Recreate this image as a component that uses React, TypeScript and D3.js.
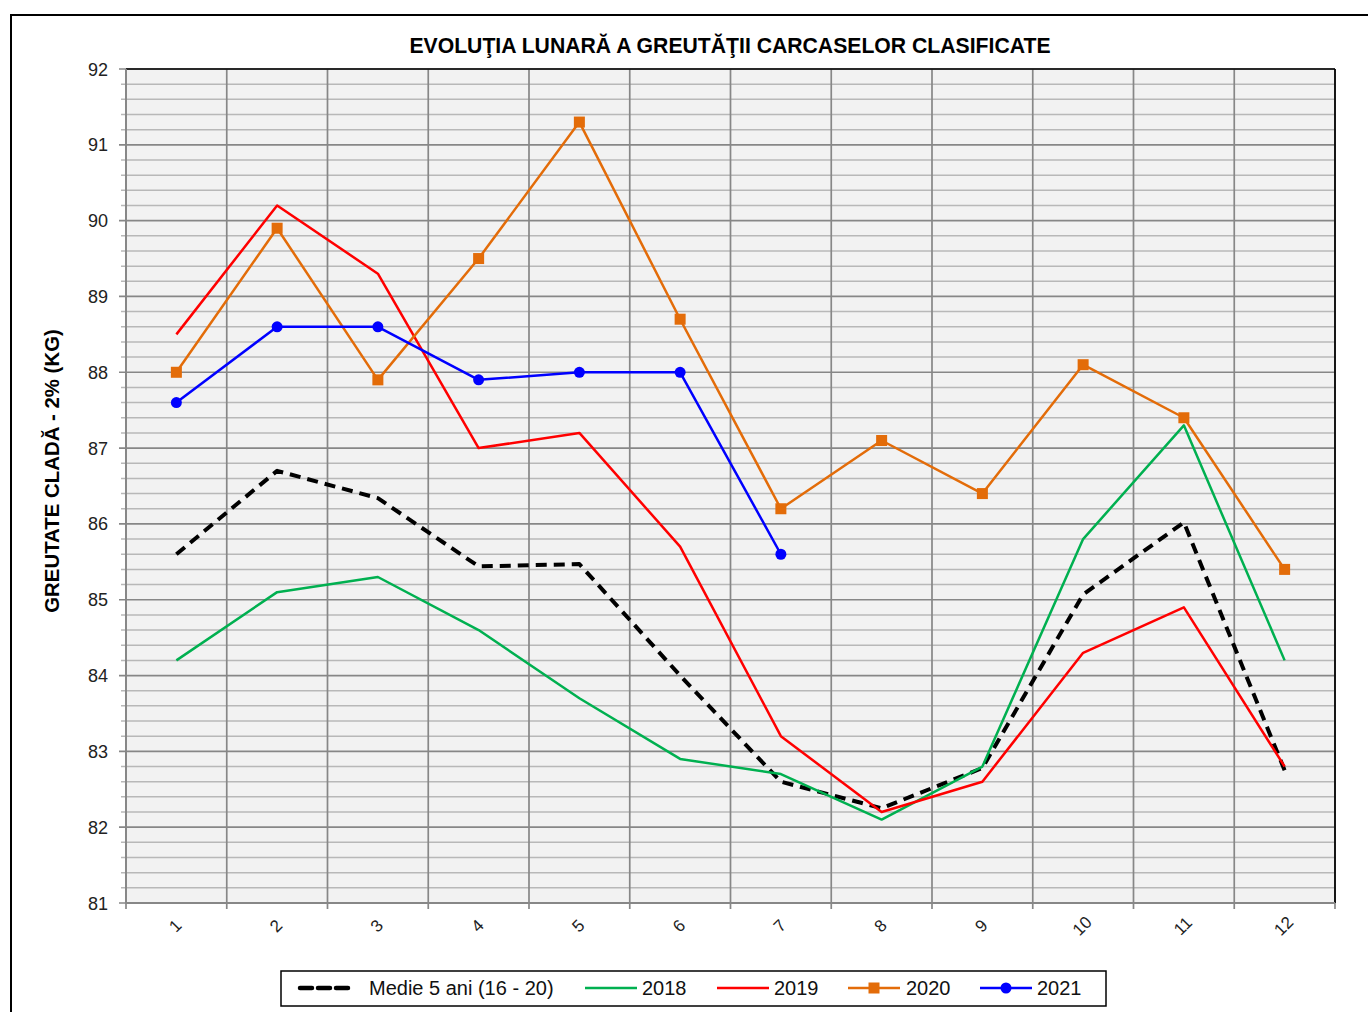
import React from "react";
import * as d3 from "d3";

const months = ["1", "2", "3", "4", "5", "6", "7", "8", "9", "10", "11", "12"];
const medie = [85.6, 86.7, 86.34, 85.44, 85.47, 84.0, 82.6, 82.25, 82.78, 85.07, 86.02, 82.75];
const y2018 = [84.2, 85.1, 85.3, 84.6, 83.7, 82.9, 82.7, 82.1, 82.8, 85.8, 87.3, 84.2];
const y2019 = [88.5, 90.2, 89.3, 87.0, 87.2, 85.7, 83.2, 82.2, 82.6, 84.3, 84.9, 82.8];
const y2020 = [88.0, 89.9, 87.9, 89.5, 91.3, 88.7, 86.2, 87.1, 86.4, 88.1, 87.4, 85.4];
const y2021 = [87.6, 88.6, 88.6, 87.9, 88.0, 88.0, 85.6];
const yTicks = [81, 82, 83, 84, 85, 86, 87, 88, 89, 90, 91, 92];

const W = 1368;
const H = 1012;
const plot = { left: 126, top: 69, right: 1335, bottom: 903 };

const series = [
  { name: "Medie 5 ani (16 - 20)", values: medie, color: "#000000", width: 4, dash: "11,7", marker: null },
  { name: "2018", values: y2018, color: "#00b050", width: 2.5, dash: null, marker: null },
  { name: "2019", values: y2019, color: "#ff0000", width: 2.5, dash: null, marker: null },
  { name: "2020", values: y2020, color: "#e36c09", width: 2.5, dash: null, marker: "square" },
  { name: "2021", values: y2021, color: "#0000ff", width: 2.5, dash: null, marker: "circle" },
];

const legendPos = [
  { x: 300, tx: 369 },
  { x: 585, tx: 642 },
  { x: 717, tx: 774 },
  { x: 848, tx: 906 },
  { x: 980, tx: 1037 },
];

const font = "'Liberation Sans', Arial, sans-serif";

export default function App() {
  const x = d3.scaleBand().domain(months).range([plot.left, plot.right]);
  const y = d3.scaleLinear().domain([81, 92]).range([plot.bottom, plot.top]);
  const minor = d3.range(81, 92.001, 0.2).map((v) => +v.toFixed(1));
  const isMajor = (v: number) => Math.abs(v - Math.round(v)) < 1e-6;
  const cx = (i: number) => (x(months[i]) as number) + x.bandwidth() / 2;
  const line = d3
    .line<number>()
    .x((_, i) => cx(i))
    .y((d) => y(d));

  return (
    <svg width={W} height={H} style={{ position: "absolute", left: 0, top: 0 }}>
      <rect x={0} y={0} width={W} height={H} fill="#fff" />
      <rect x={11} y={15} width={W + 20} height={H + 20} fill="none" stroke="#000" strokeWidth={2} />
      <text x={730} y={53} textAnchor="middle" fontFamily={font} fontWeight="bold" fontSize={21.2}>
        EVOLUŢIA LUNARĂ A GREUTĂŢII CARCASELOR CLASIFICATE
      </text>

      <rect x={plot.left} y={plot.top} width={plot.right - plot.left} height={plot.bottom - plot.top} fill="#f2f2f2" />
      {minor.map((v) => (
        <line key={"mn" + v} x1={plot.left - (isMajor(v) ? 7 : 5)} x2={plot.right} y1={y(v)} y2={y(v)}
          stroke={isMajor(v) ? "#878787" : "#b8b8b8"}
          strokeWidth={isMajor(v) ? 1.7 : 1.5} />
      ))}
      {months.map((m) => (
        <line key={"v" + m} x1={x(m) as number} x2={x(m) as number} y1={plot.top} y2={plot.bottom + 6}
          stroke="#878787" strokeWidth={1.7} />
      ))}
      <line x1={plot.right} x2={plot.right} y1={plot.top} y2={plot.bottom + 6} stroke="#878787" strokeWidth={1.7} />
      <line x1={plot.left} x2={plot.right} y1={plot.top} y2={plot.top} stroke="#000" strokeWidth={1.7} />
      <line x1={plot.right} x2={plot.right} y1={plot.top} y2={plot.bottom} stroke="#000" strokeWidth={1.7} />
      <line x1={plot.left} x2={plot.right} y1={plot.bottom} y2={plot.bottom} stroke="#878787" strokeWidth={1.9} />
      <line x1={plot.left} x2={plot.left} y1={plot.top} y2={plot.bottom} stroke="#878787" strokeWidth={1.9} />
      {yTicks.map((v) => (
        <text key={"yt" + v} x={108} y={y(v) + 6.5} textAnchor="end" fontFamily={font} fontSize={18} fill="#222">
          {v}
        </text>
      ))}
      {months.map((m, i) => (
        <text key={"xt" + m} transform={`translate(${cx(i) + 3},${plot.bottom + 27}) rotate(-45)`}
          textAnchor="middle" fontFamily={font} fontSize={17} fill="#222">
          {m}
        </text>
      ))}
      <text transform={`translate(59,471) rotate(-90)`} textAnchor="middle" fontFamily={font} fontWeight="bold" fontSize={20.4}>
        GREUTATE CLADĂ - 2% (KG)
      </text>

      {series.map((s) => (
        <g key={s.name}>
          <path d={line(s.values) || ""} fill="none" stroke={s.color} strokeWidth={s.width}
            strokeDasharray={s.dash || undefined} strokeLinejoin="round" />
          {s.marker === "square" &&
            s.values.map((v, i) => <rect key={i} x={cx(i) - 5.5} y={y(v) - 5.5} width={11} height={11} fill={s.color} />)}
          {s.marker === "circle" &&
            s.values.map((v, i) => <circle key={i} cx={cx(i)} cy={y(v)} r={5.5} fill={s.color} />)}
        </g>
      ))}

      <rect x={281} y={971} width={825} height={35} fill="#fff" stroke="#000" strokeWidth={1.5} />
      {series.map((s, i) => {
        const p = legendPos[i];
        return (
          <g key={"lg" + s.name}>
            <line x1={p.x} x2={p.x + 52} y1={988} y2={988} stroke={s.color}
              strokeWidth={s.dash ? 4.5 : 2.5} strokeDasharray={s.dash ? "12,6" : undefined} strokeLinecap={s.dash ? "round" : undefined} />
            {s.marker === "square" && <rect x={p.x + 26 - 5.5} y={988 - 5.5} width={11} height={11} fill={s.color} />}
            {s.marker === "circle" && <circle cx={p.x + 26} cy={988} r={5.5} fill={s.color} />}
            <text x={p.tx} y={995} fontFamily={font} fontSize={20} fill="#111">
              {s.name}
            </text>
          </g>
        );
      })}
    </svg>
  );
}
